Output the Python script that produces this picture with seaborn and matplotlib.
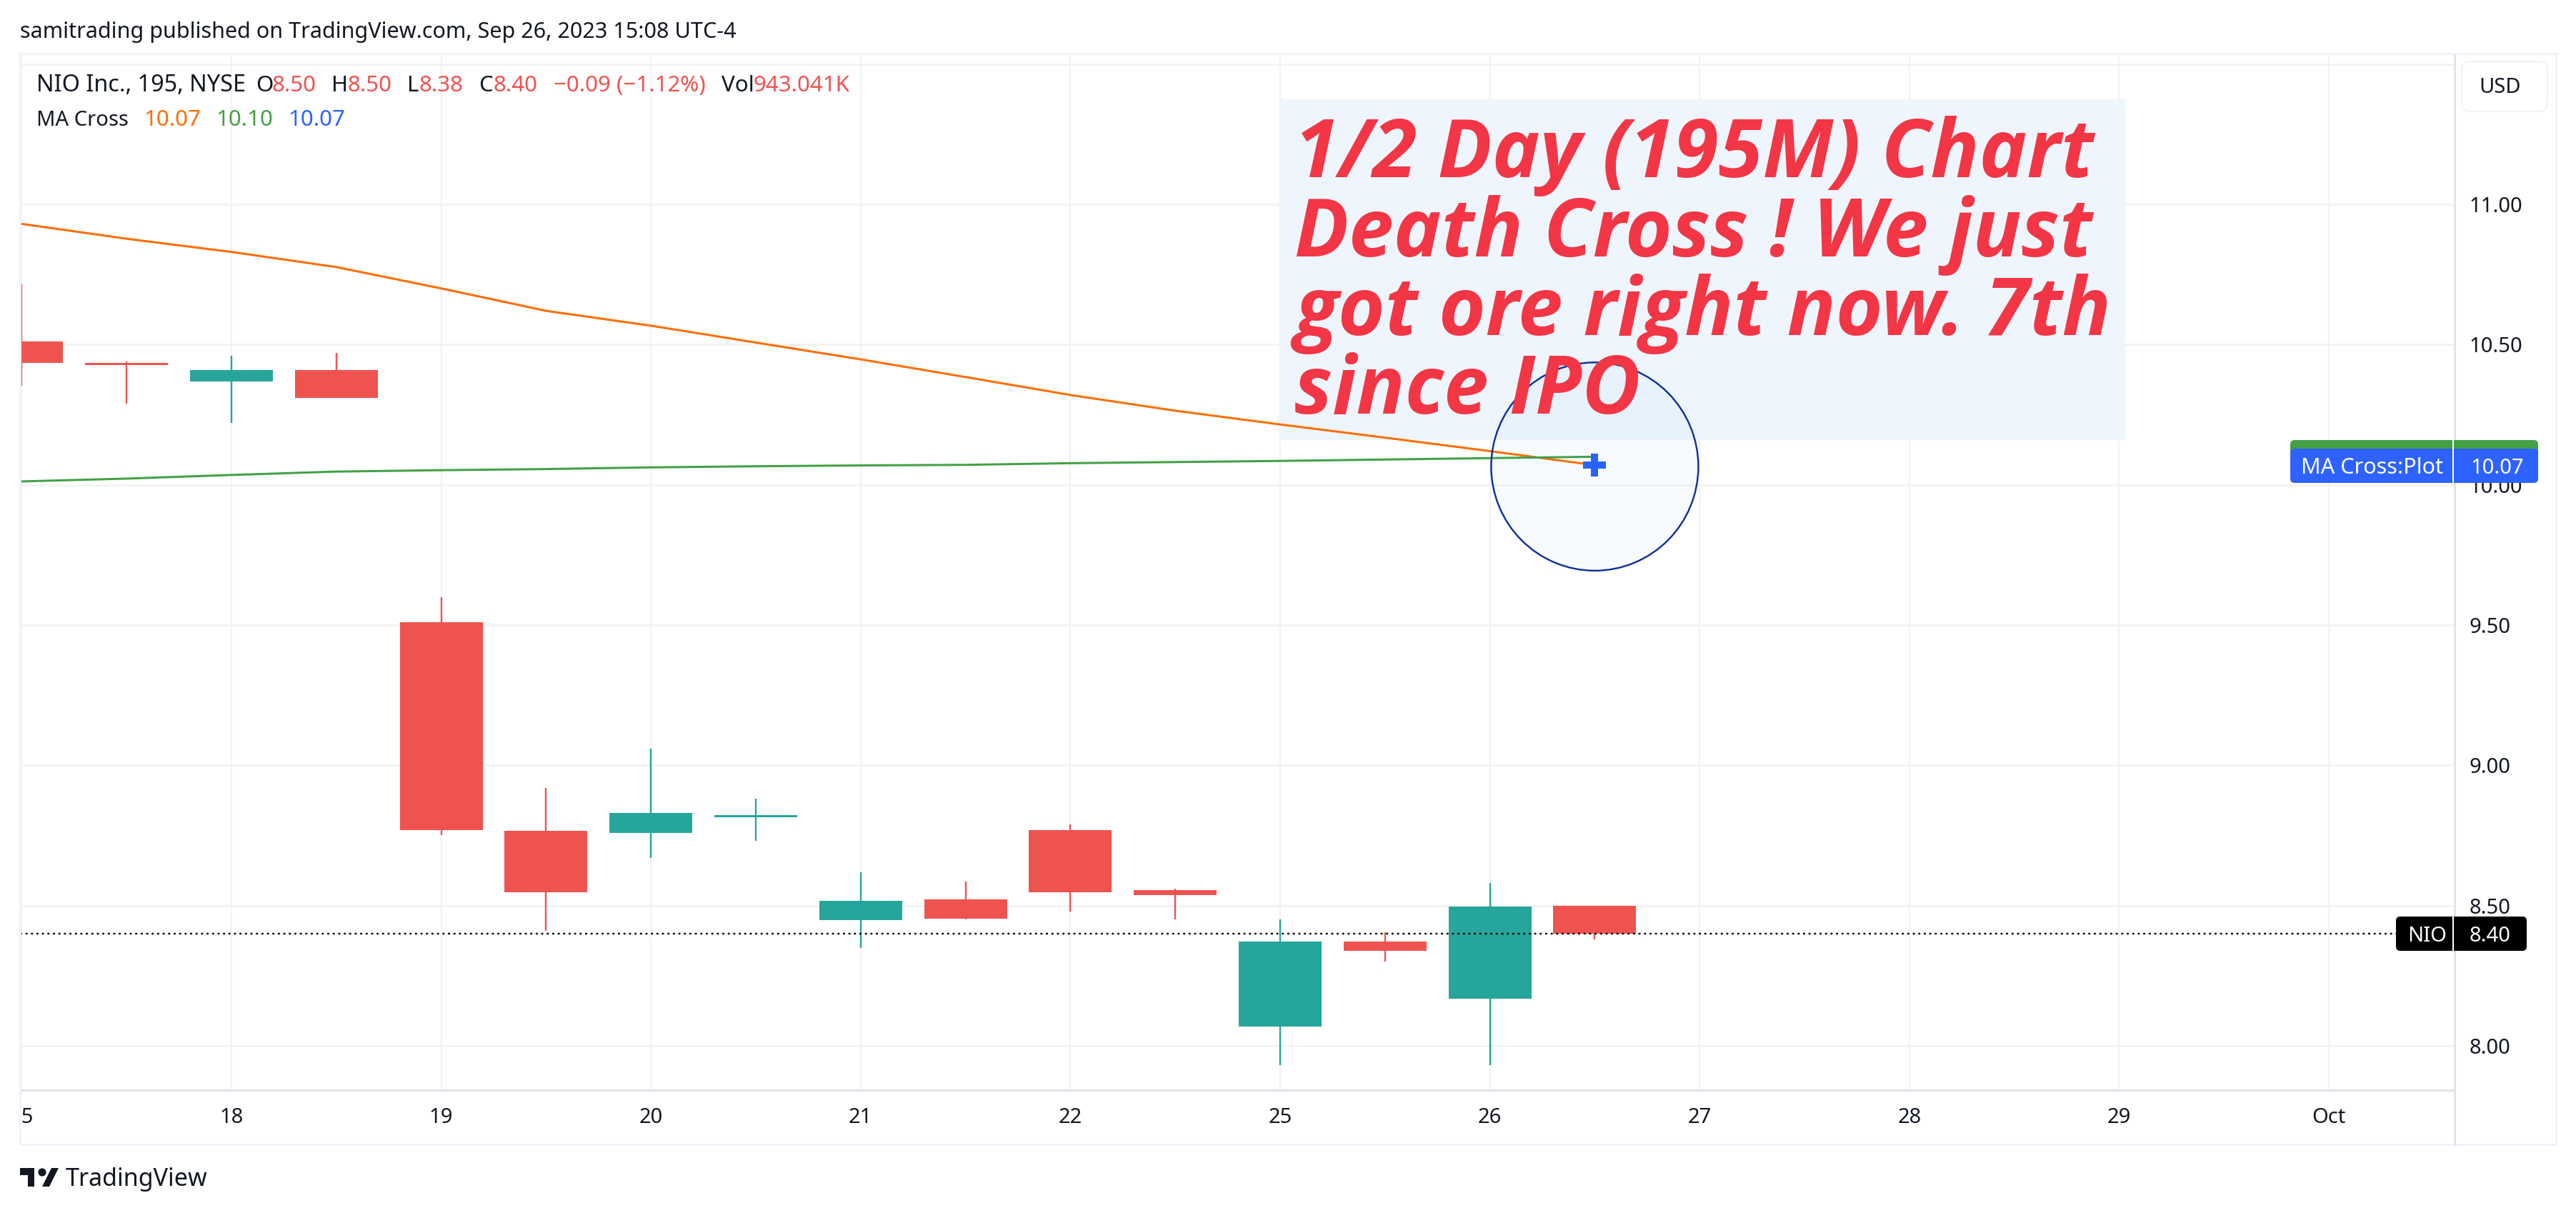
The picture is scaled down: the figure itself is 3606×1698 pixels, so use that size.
import matplotlib
matplotlib.use("Agg")
import matplotlib.pyplot as plt
import numpy as np
import pandas as pd
import seaborn as sns
from matplotlib.patches import Ellipse, FancyBboxPatch, Polygon, Circle, Rectangle
from matplotlib.lines import Line2D
from matplotlib.transforms import Bbox, IdentityTransform, TransformedBbox

# ---- data -------------------------------------------------------------
slots = [-1, -0.5, 0, 0.5, 1, 1.5, 2, 2.5, 3, 3.5, 4, 4.5, 5, 5.5, 6, 6.5]
opens = [10.51, 10.434, 10.368, 10.41, 9.51, 8.767, 8.76, 8.815, 8.448, 8.522, 8.77, 8.555, 8.07, 8.372, 8.168, 8.50]
closes = [10.434, 10.427, 10.41, 10.31, 8.77, 8.548, 8.83, 8.823, 8.517, 8.453, 8.547, 8.537, 8.372, 8.339, 8.497, 8.40]
highs = [10.715, 10.44, 10.46, 10.47, 9.60, 8.92, 9.06, 8.88, 8.62, 8.585, 8.79, 8.56, 8.45, 8.405, 8.58, 8.50]
lows = [10.353, 10.29, 10.22, 10.31, 8.75, 8.41, 8.67, 8.73, 8.35, 8.45, 8.48, 8.45, 7.93, 8.30, 7.93, 8.38]
ma_fast = [10.93, 10.877, 10.83, 10.776, 10.70, 10.62, 10.567, 10.507, 10.447, 10.384, 10.32, 10.264, 10.215, 10.168, 10.12, 10.07]
ma_slow = [10.012, 10.022, 10.035, 10.047, 10.052, 10.056, 10.062, 10.066, 10.069, 10.071, 10.077, 10.081, 10.085, 10.09, 10.095, 10.10]
last_price = 8.40
cross_value = 10.07
price_ticks = [8.0, 8.5, 9.0, 9.5, 10.0, 10.5, 11.0, 11.5]
price_labels = ["8.00", "8.50", "9.00", "9.50", "10.00", "10.50", "11.00", ""]
date_ticks = [-1, 0, 1, 2, 3, 4, 5, 6, 7, 8, 9, 10]
date_labels = ["15", "18", "19", "20", "21", "22", "25", "26", "27", "28", "29", "Oct"]
note_lines = ["1/2 Day (195M) Chart", "Death Cross ! We just", "got ore right now. 7th", "since IPO"]

RED = "#EF5350"
GREEN = "#26A69A"
INK = "#131722"
ORANGE = "#FF6D00"
MAGREEN = "#43A047"
BLUE = "#2962FF"
FRAME = "#F0F3FA"
AXISLINE = "#E0E3EB"
GRID = "#F3F3F3"

W, H = 3606, 1698
sns.set_theme(style="white")
plt.rcParams["font.family"] = ["Noto Sans", "DejaVu Sans"]
fig = plt.figure(figsize=(W / 100, H / 100), dpi=100, facecolor="white")

L, R, T, B = 28, 3436, 75, 1526
ax = fig.add_axes([L / W, 1 - B / H, (R - L) / W, (B - T) / H])
ax.set_xlim((L - 324) / 293.6, (R - 324) / 293.6)
ax.set_ylim(8 + (1464 - B) / 392.7, 8 + (1464 - T) / 392.7)
ax.set_facecolor("white")

px = 0.72  # one pixel in points at dpi 100
ax.set_axisbelow(True)
ax.grid(True, axis="y", color=GRID, lw=3 * px)
ax.grid(True, axis="x", color=GRID, lw=2.2 * px)

# annotation background
ax.add_patch(Rectangle((5.0, 10.159), 4.03, 1.215, fc="#EEF5FD", ec="none", zorder=1))

# moving averages
ma_df = pd.DataFrame({"slot": slots * 2,
                      "value": ma_fast + ma_slow,
                      "series": ["fast"] * len(slots) + ["slow"] * len(slots)})
sns.lineplot(data=ma_df, x="slot", y="value", hue="series", palette={"fast": ORANGE, "slow": MAGREEN},
             estimator=None, sort=False, legend=False, lw=3 * px, ax=ax, zorder=3)
ax.plot([6.5], [cross_value], marker="+", ms=32 * px, mew=10 * px, color=BLUE, ls="none", zorder=4)

# candlesticks
for s, o, c, h, l in zip(slots, opens, closes, highs, lows):
    col = GREEN if c >= o else RED
    ax.vlines(s, l, h, color=col, lw=2.4 * px, zorder=2)
    ax.bar(s, abs(c - o), bottom=min(o, c), width=116 / 293.6, color=col, lw=0, zorder=2.5)

ax.axhline(last_price, color="black", lw=2.4 * px, ls=(0, (1.2, 2.0)), zorder=2.6)

ax.add_patch(Ellipse((6.5, 10.065), 290 / 293.6, 291.5 / 392.7, fc=(0.13, 0.59, 0.95, 0.03),
                     ec="#0E2F9B", lw=2.4 * px, zorder=6))

# axes
ax.set_xlabel("")
ax.set_ylabel("")
ax.yaxis.tick_right()
ax.set_yticks(price_ticks)
ax.set_yticklabels(price_labels)
ax.set_xticks(date_ticks)
ax.set_xticklabels(date_labels)
ax.tick_params(axis="y", length=0, pad=15, labelsize=21, labelcolor=INK)
ax.tick_params(axis="x", length=0, pad=17, labelsize=21, labelcolor=INK)
clip = TransformedBbox(Bbox([[L, 0], [W, H]]), IdentityTransform())
for lab in ax.get_xticklabels():
    lab.set_clip_box(clip)
    lab.set_clip_on(True)
    if lab.get_text() == "Oct":
        lab.set_fontweight("bold")
for name in ("top", "left"):
    ax.spines[name].set_visible(False)
for name in ("bottom", "right"):
    ax.spines[name].set_color(AXISLINE)
    ax.spines[name].set_linewidth(3 * px)

# ---- pixel-placed chrome ------------------------------------------------
I = IdentityTransform()


def ptext(x, y, s, color=INK, size=21, ha="left", **kw):
    return fig.text(x, H - y, s, color=color, fontsize=size, ha=ha, va="baseline", transform=I, **kw)


def box(x0, y0, x1, y1, fc, ec="none", lw=0, r=6):
    fig.add_artist(FancyBboxPatch((x0, H - y1), x1 - x0, y1 - y0, boxstyle=f"round,pad=0,rounding_size={r}",
                                  fc=fc, ec=ec, lw=lw, transform=I))


fig.add_artist(Rectangle((L, H - 1602), 3578 - L, 1602 - T, fc="none", ec=FRAME, lw=3 * px, transform=I))
fig.add_artist(Line2D([R, R], [H - 1526, H - 1602], color=AXISLINE, lw=3 * px, transform=I))

ptext(28, 53, "samitrading published on TradingView.com, Sep 26, 2023 15:08 UTC-4", size=22)

# legend rows
row1 = [(51, "NIO Inc., 195, NYSE", INK, 23.3), (358, "O", INK, 22.5), (380, "8.50", RED, 22.5), (464, "H", INK, 22.5),
        (486, "8.50", RED, 22.5), (570, "L", INK, 22.5), (586, "8.38", RED, 22.5), (670, "C", INK, 22.5),
        (690, "8.40", RED, 22.5), (775, "\u22120.09 (\u22121.12%)", RED, 22.5), (1010, "Vol", INK, 22.5),
        (1055, "943.041K", RED, 22.5)]
for x, s, c, fs in row1:
    ptext(x, 128, s, color=c, size=fs)
row2 = [(51, "MA Cross", INK, 21), (201, "10.07", ORANGE, 22.5), (302, "10.10", MAGREEN, 22.5), (403, "10.07", BLUE, 22.5)]
for x, s, c, fs in row2:
    ptext(x, 176, s, color=c, size=fs)

# annotation text
for y, s in zip([248, 359, 469, 579], note_lines):
    ptext(1812, y, s, color="#F23645", size=81, family=["Open Sans", "DejaVu Sans"], fontweight="bold", fontstyle="italic")

# tags
box(3446, 86, 3566, 156, "white", ec=FRAME, lw=2 * px, r=12)
ptext(3500, 130, "USD", size=21, ha="center")

box(3206, 616, 3553, 660, MAGREEN)
box(3206, 628, 3553, 676, "#2E62FF")
ptext(3221, 663, "MA Cross:Plot", color="white", size=22)
ptext(3458, 663, "10.07", color="white", size=21)
fig.add_artist(Line2D([3434, 3434], [H - 616, H - 676], color="white", lw=2 * px, transform=I))

box(3354, 1283, 3537, 1331, "black")
ptext(3370, 1318, "NIO", color="white", size=21)
ptext(3457, 1318, "8.40", color="white", size=21)
fig.add_artist(Line2D([3434, 3434], [H - 1283, H - 1331], color="white", lw=2 * px, transform=I))

# TradingView logo
fig.add_artist(Polygon([(28, H - 1635), (48, H - 1635), (48, H - 1661), (39, H - 1661), (39, H - 1645), (28, H - 1645)],
                       closed=True, fc=INK, ec="none", transform=I))
fig.add_artist(Circle((59, H - 1641), 5.6, fc=INK, ec="none", transform=I))
fig.add_artist(Polygon([(72, H - 1635), (82, H - 1635), (69, H - 1661), (59, H - 1661)],
                       closed=True, fc=INK, ec="none", transform=I))
ptext(92, 1660, "TradingView", size=24.5)

fig.savefig("out.png", dpi=100, facecolor="white")
